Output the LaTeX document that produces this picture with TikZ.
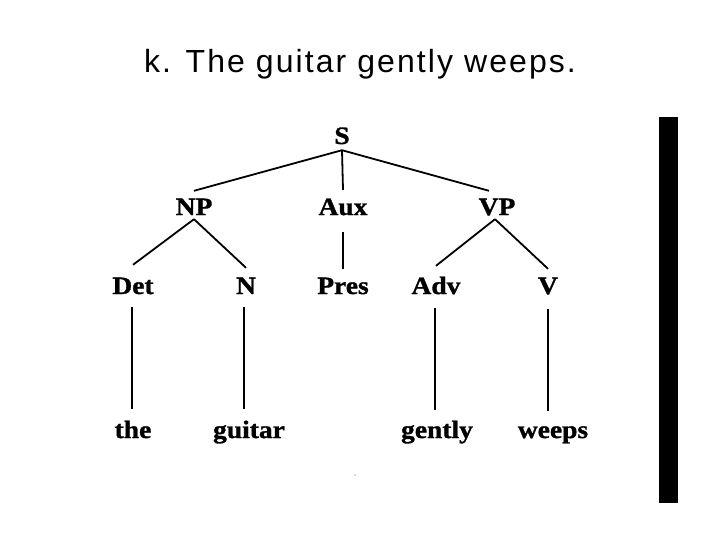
\documentclass[tikz,border=0pt]{standalone}
\usepackage{fontspec}
\setmainfont{Liberation Serif}
\newfontfamily\titlefont[LetterSpace=6.5]{Liberation Sans}
\newfontfamily\treefont[FakeStretch=1.1,FakeBold=1.2]{Liberation Serif}
\begin{document}
\begin{tikzpicture}[x=1pt,y=-1pt,
  lab/.style={anchor=base,inner sep=0pt,text height=16pt,text depth=0pt,font=\treefont\bfseries\fontsize{25}{25}\selectfont},
  br/.style={line width=1.8pt},
  thick br/.style={line width=2.6pt}]
\useasboundingbox (0,0) rectangle (720,540);
\node[anchor=base,inner sep=0pt,font=\titlefont\fontsize{32}{32}\selectfont] (title) at (360,73) {k. The guitar gently weeps.};
% tree labels
\node[lab] (S) at (342,144) {S};
\node[lab] (NP) at (194,215) {NP};
\node[lab] (Aux) at (343,215) {Aux};
\node[lab] (VP) at (497,215) {VP};
\node[lab] (Det) at (133,294) {Det};
\node[lab] (N) at (246,294) {N};
\node[lab] (Pres) at (343,294) {Pres};
\node[lab] (Adv) at (436,294) {Adv};
\node[lab] (V) at (548,294) {V};
\node[lab] (the) at (133,438) {the};
\node[lab] (guitar) at (249,438) {guitar};
\node[lab] (gently) at (437,438) {gently};
\node[lab] (weeps) at (553,438) {weeps};
% branches
\draw[br] ([yshift=-6pt]S.south) -- ([yshift=8pt]NP.north);
\draw[br] ([yshift=-6pt]S.south) -- ([yshift=9pt]Aux.north);
\draw[br] ([yshift=-6pt]S.south) -- ([xshift=-8pt,yshift=8pt]VP.north);
\draw[br] ([yshift=-4pt]NP.south) -- ([yshift=13pt]Det.north);
\draw[br] ([yshift=-4pt]NP.south) -- ([yshift=10pt]N.north);
\draw[br] ([yshift=-17pt]Aux.south) -- ([yshift=9pt]Pres.north);
\draw[br] ([xshift=-2pt,yshift=-4pt]VP.south) -- ([yshift=12pt]Adv.north);
\draw[br] ([xshift=-2pt,yshift=-4pt]VP.south) -- ([yshift=9pt]V.north);
\draw[br] ([xshift=-1pt,yshift=-13pt]Det.south) -- ([xshift=-1pt,yshift=13pt]Det.south |- the.north);
\draw[br] ([xshift=-2pt,yshift=-13pt]N.south) -- ([xshift=-2pt,yshift=13pt]N.south |- guitar.north);
\draw[br] ([xshift=-1pt,yshift=-14pt]Adv.south) -- ([xshift=-1pt,yshift=12pt]Adv.south |- gently.north);
\draw[thick br] ([yshift=-15pt]V.south) -- ([yshift=11pt]V.south |- weeps.north);
% stray dot and side bar
\fill[gray!60] (355,475) circle (0.8pt);
\fill[black] (659,117) rectangle (678,503);
\end{tikzpicture}
\end{document}
